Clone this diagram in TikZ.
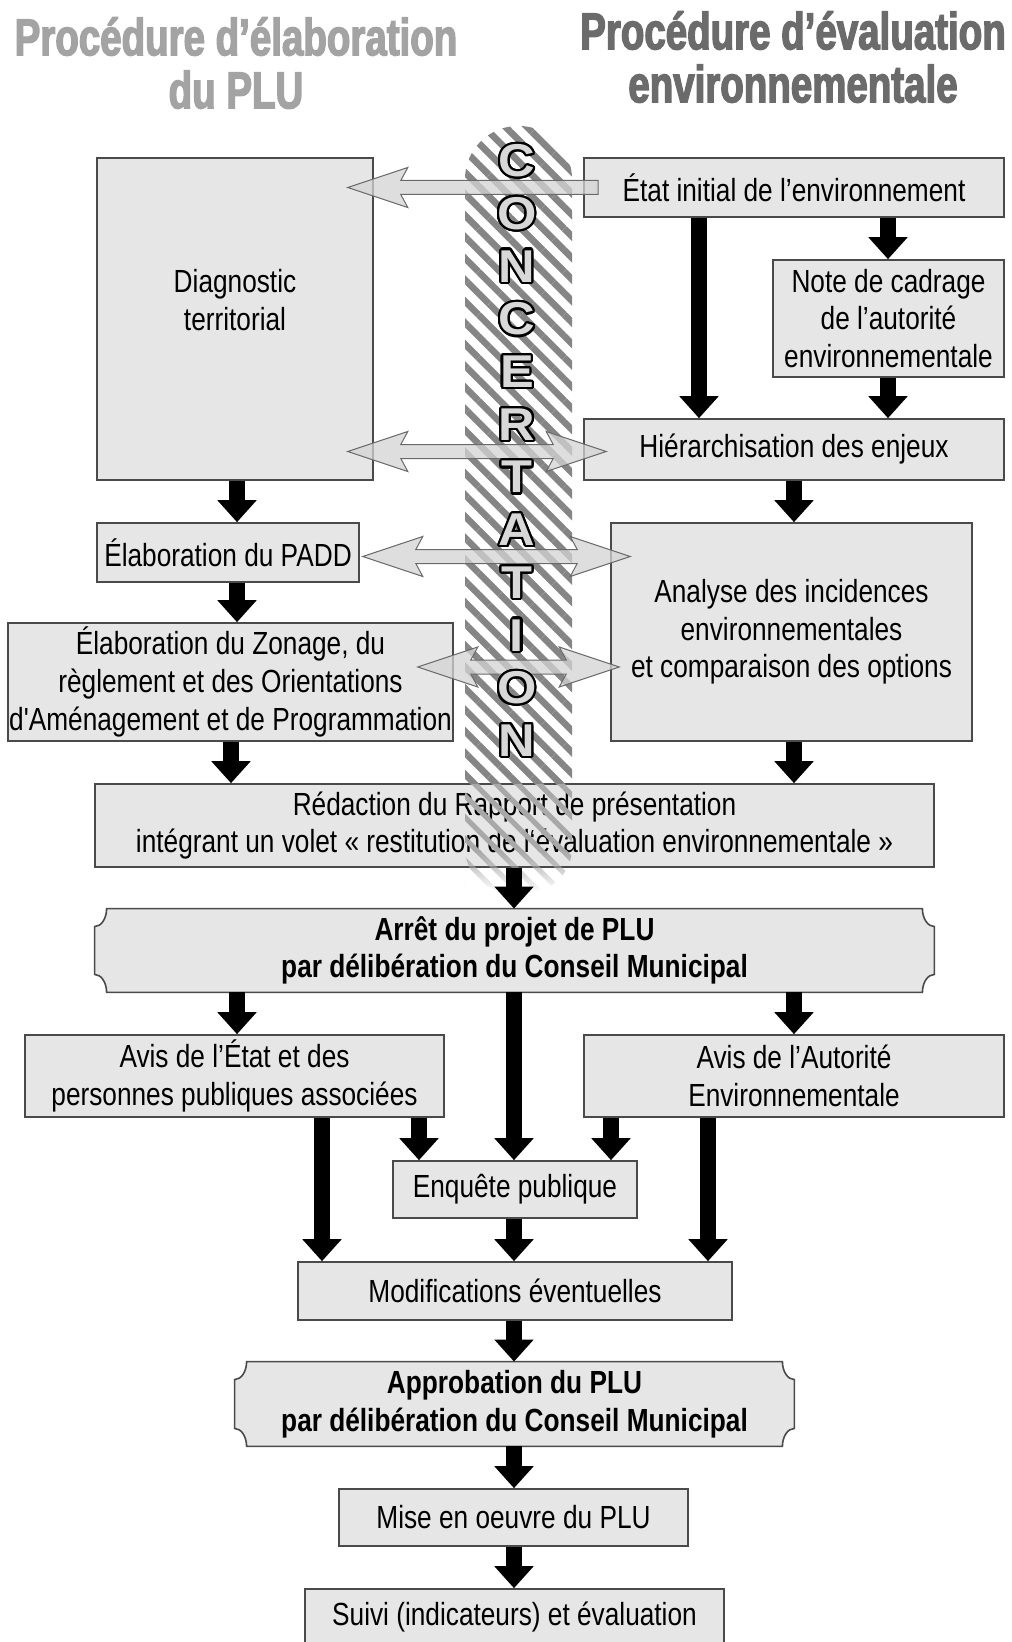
\documentclass[tikz,border=0pt]{standalone}
\usepackage{fontspec}
\setmainfont{Liberation Sans}[FakeStretch=0.82,Ligatures=TeXOff]
\newfontfamily\titlefont{Liberation Sans}[FakeStretch=0.74,FakeBold=2.5]
\newfontfamily\letfont{Liberation Sans}[FakeStretch=1.1]
\usepackage{contour}
\contourlength{1.1pt}
\contournumber{24}
\usetikzlibrary{arrows.meta,calc,fit,patterns.meta,fadings,backgrounds}

\definecolor{boxfill}{HTML}{E6E6E6}
\definecolor{boxline}{HTML}{4A4A4A}
\definecolor{titleA}{HTML}{A3A3A3}
\definecolor{titleB}{HTML}{6B6B6B}
\definecolor{stripe}{HTML}{858585}
\definecolor{stripelight}{HTML}{A8A8A8}
\definecolor{letfill}{HTML}{D8D8D8}
\definecolor{garfill}{HTML}{D4D4D4}
\definecolor{garline}{HTML}{6A6A6A}

\tikzfading[name=fadedown, top color=transparent!0, bottom color=transparent!100]

\newcommand\boxfont{\fontsize{16}{18.8}\selectfont}
\newcommand\plaque[1]{%
  \draw[plaq] ($(#1.north west)+(12,0)$) -- ($(#1.north east)+(-12,0)$)
    .. controls ($(#1.north east)+(-12,9.9)$) and ($(#1.north east)+(-6.6,18)$) .. ($(#1.north east)+(0,18)$)
    -- ($(#1.south east)+(0,-18)$)
    .. controls ($(#1.south east)+(-6.6,-18)$) and ($(#1.south east)+(-12,-9.9)$) .. ($(#1.south east)+(-12,0)$)
    -- ($(#1.south west)+(12,0)$)
    .. controls ($(#1.south west)+(12,-9.9)$) and ($(#1.south west)+(6.6,-18)$) .. ($(#1.south west)+(0,-18)$)
    -- ($(#1.north west)+(0,18)$)
    .. controls ($(#1.north west)+(6.6,18)$) and ($(#1.north west)+(12,9.9)$) .. ($(#1.north west)+(12,0)$)
    -- cycle;}
\newcommand\garrowD[2]{%
  \filldraw[garr] (#1) -- ($(#1)+(60,-20)$) -- ($(#1)+(53,-7)$) -- ($(#2)+(-53,-7)$)
    -- ($(#2)+(-60,-20)$) -- (#2) -- ($(#2)+(-60,20)$) -- ($(#2)+(-53,7)$)
    -- ($(#1)+(53,7)$) -- ($(#1)+(60,20)$) -- cycle;}
\newcommand\garrowS[2]{%
  \filldraw[garr] (#1) -- ($(#1)+(60,-20)$) -- ($(#1)+(53,-7)$) -- ($(#2)+(0,-7)$)
    -- ($(#2)+(0,7)$) -- ($(#1)+(53,7)$) -- ($(#1)+(60,20)$) -- cycle;}

\begin{document}
\begin{tikzpicture}[x=0.5pt,y=-0.5pt,
  box/.style={draw=boxline, line width=0.8pt, fill=boxfill, inner sep=0pt, align=center, font=\boxfont, anchor=center},
  holder/.style={inner sep=0pt, anchor=center},
  ptext/.style={align=center, font=\boxfont\bfseries, inner sep=0pt},
  plaq/.style={draw=boxline, line width=0.8pt, fill=boxfill},
  title/.style={align=center, font=\titlefont\bfseries\fontsize{26}{26.5}\selectfont, inner sep=0pt},
  letn/.style={font=\letfont\bfseries\fontsize{23}{23}\selectfont, text=letfill, inner sep=0pt},
  blk/.style={draw=black, line width=8pt, -{Triangle[width=19pt,length=11pt]}},
  garr/.style={fill=garfill, fill opacity=0.75, draw=garline, line width=0.5pt, line join=miter},
  bandfill/.style={pattern={Lines[angle=-45,distance=7.6pt,line width=3.3pt]}, pattern color=stripe},
  bandlight/.style={pattern={Lines[angle=-45,distance=7.6pt,line width=2.6pt]}, pattern color=stripelight}
]
\useasboundingbox (0,0) rectangle (1011,1642);
\begin{scope}[on background layer]
  \fill[white] (0,0) rectangle (1011,1642);
\end{scope}
\clip (0,0) rectangle (1011,1642);

% titles
\node[title, text=titleA] (t1) at (236,63) {Procédure d’élaboration\\du PLU};
\node[title, text=titleB] (t2) at (793,57) {Procédure d’évaluation\\environnementale};

% boxes
\node[box, minimum width=138pt, minimum height=161pt] (diag) at (235,319) {Diagnostic\\territorial\\\mbox{}};
\node[box, minimum width=210pt, minimum height=29.5pt] (etat) at (794,187.5) {État initial de l’environnement};
\node[box, minimum width=115.5pt, minimum height=58.5pt] (note) at (888.5,318.5) {Note de cadrage\\de l’autorité\\environnementale};
\node[box, minimum width=210pt, minimum height=30.5pt] (hier) at (794,449.5) {Hiérarchisation des enjeux};
\node[box, minimum width=131pt, minimum height=29.5pt] (padd) at (228,552.5) {Élaboration du PADD};
\node[box, minimum width=180.5pt, minimum height=109pt] (analyse) at (791.5,632) {Analyse des incidences\\environnementales\\et comparaison des options};
\node[box, minimum width=222.5pt, minimum height=59pt] (zonage) at (230.5,682) {Élaboration du Zonage, du\\règlement et des Orientations\\d'Aménagement et de Programmation};
\node[box, minimum width=419.5pt, minimum height=41.5pt] (redac) at (514.5,825.5) {Rédaction du Rapport de présentation\\intégrant un volet « restitution de l‘évaluation environnementale »};

\node[holder, minimum width=419.5pt, minimum height=41.5pt] (arret) at (514.5,950.5) {};
\begin{scope}[on background layer]\plaque{arret}\end{scope}
\node[ptext] (arrett) at (arret.center) {Arrêt du projet de PLU\\par délibération du Conseil Municipal};

\node[box, minimum width=209.5pt, minimum height=41pt] (avisE) at (234.5,1076) {Avis de l’État et des\\personnes publiques associées};
\node[box, minimum width=210pt, minimum height=41pt] (avisA) at (794,1076) {Avis de l’Autorité\\Environnementale};
\node[box, minimum width=122pt, minimum height=28.5pt] (enq) at (515,1189.5) {Enquête publique};
\node[box, minimum width=217pt, minimum height=29pt] (modif) at (515,1291) {Modifications éventuelles};

\node[holder, minimum width=279.5pt, minimum height=42pt] (approb) at (514.5,1404) {};
\begin{scope}[on background layer]\plaque{approb}\end{scope}
\node[ptext] (approbt) at (approb.center) {Approbation du PLU\\par délibération du Conseil Municipal};

\node[box, minimum width=174.5pt, minimum height=28.5pt] (mise) at (513.5,1517.5) {Mise en oeuvre du PLU};
\node[box, minimum width=209.5pt, minimum height=28pt] (suivi) at (514.5,1617) {Suivi (indicateurs) et évaluation};

% concertation band
\fill[bandfill, rounded corners=26.5pt] (465,126) -- (572,126) -- (572,790) [sharp corners] -- (572,785) -- (465,785) [rounded corners=26.5pt] -- (465,790) -- cycle;
\fill[bandlight] (465,784) rectangle (572,851);
\fill[bandlight, path fading=fadedown] (465,850) -- (572,850) -- (572,860) [rounded corners=22pt] -- (572,892) -- (465,892) -- (465,860) [sharp corners] -- cycle;

% grey double arrows
\coordinate (ga1) at ($(diag.east |- etat.west)+(-26,0)$);
\coordinate (ga2) at ($(etat.west)+(15,0)$);
\coordinate (gb1) at ($(diag.east |- hier.west)+(-26,2)$);
\coordinate (gb2) at ($(hier.west)+(23,2)$);
\coordinate (gc1) at ($(padd.east)+(3,4)$);
\coordinate (gc2) at ($(analyse.west |- padd.east)+(20,4)$);
\coordinate (gd1) at ($(zonage.east)+(-36,-15)$);
\coordinate (gd2) at ($(analyse.west |- gd1)+(9,0)$);
\garrowS{ga1}{ga2}
\garrowD{gb1}{gb2}
\garrowD{gc1}{gc2}
\garrowD{gd1}{gd2}

% letters
\foreach \L [count=\i] in {C,O,N,C,E,R,T,A,T,I,O,N}
  \node[letn] (L\i) at (517,{162+52.7*(\i-1)}) {\contour{black}{\L}};

% black arrows
\coordinate (xA) at (237,0);
\coordinate (xZ) at (231,0);
\coordinate (xR) at (794,0);
\coordinate (xN) at (888,0);
\coordinate (xE) at (699,0);
\coordinate (xM) at (514,0);
\coordinate (xP) at (419,0);
\coordinate (xQ) at (611,0);
\coordinate (xS) at (322,0);
\coordinate (xT) at (708,0);

\draw[blk] (diag.south -| xA) -- (padd.north -| xA);
\draw[blk] (padd.south -| xA) -- (zonage.north -| xA);
\draw[blk] (zonage.south -| xZ) -- (redac.north -| xZ);
\draw[blk] (analyse.south -| xR) -- (redac.north -| xR);
\draw[blk] (etat.south -| xN) -- (note.north -| xN);
\draw[blk] (note.south -| xN) -- (hier.north -| xN);
\draw[blk] (etat.south -| xE) -- (hier.north -| xE);
\draw[blk] (hier.south -| xR) -- (analyse.north -| xR);
\draw[blk] (redac.south -| xM) -- (arret.north -| xM);
\draw[blk] (arret.south -| xA) -- (avisE.north -| xA);
\draw[blk] (arret.south -| xR) -- (avisA.north -| xR);
\draw[blk] (arret.south -| xM) -- (enq.north -| xM);
\draw[blk] (avisE.south -| xP) -- (enq.north -| xP);
\draw[blk] (avisA.south -| xQ) -- (enq.north -| xQ);
\draw[blk] (avisE.south -| xS) -- (modif.north -| xS);
\draw[blk] (avisA.south -| xT) -- (modif.north -| xT);
\draw[blk] (enq.south -| xM) -- (modif.north -| xM);
\draw[blk] (modif.south -| xM) -- (approb.north -| xM);
\draw[blk] (approb.south -| xM) -- (mise.north -| xM);
\draw[blk] (mise.south -| xM) -- (suivi.north -| xM);
\end{tikzpicture}
\end{document}
